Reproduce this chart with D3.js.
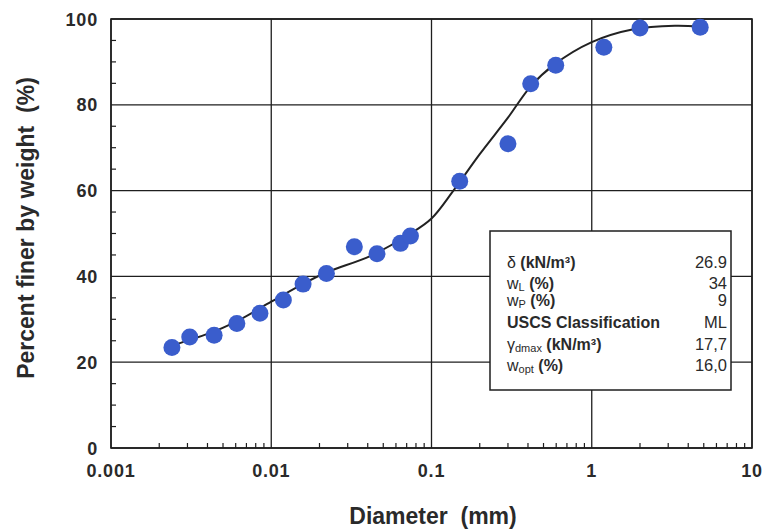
<!DOCTYPE html>
<html>
<head>
<meta charset="utf-8">
<script src="https://cdn.jsdelivr.net/npm/d3@7"></script>
<style>
  body { margin: 0; background: #fff; }
  text { font-family: "Liberation Sans", Arial, sans-serif; white-space: pre; }
</style>
</head>
<body>
<svg id="chart" width="764" height="532"></svg>
<script>
// measured points: diameter (mm) and percent finer
var diam = [0.0024, 0.0031, 0.0044, 0.0061, 0.0085, 0.0119, 0.0158, 0.0221, 0.033, 0.0457, 0.064, 0.0739,
            0.15, 0.30, 0.416, 0.596, 1.19, 2.0, 4.75];
var finer = [23.4, 25.9, 26.3, 29.0, 31.4, 34.5, 38.2, 40.7, 46.9, 45.3, 47.7, 49.4,
             62.2, 70.9, 84.9, 89.2, 93.4, 97.9, 98.1];

// fitted curve
var curveD = [0.00228, 0.0031, 0.0045, 0.0065, 0.01, 0.015, 0.022, 0.0417, 0.074, 0.1, 0.137, 0.2, 0.3, 0.416, 0.58, 1.0, 1.82, 3.3, 4.75];
var curveP = [23.6, 25.2, 27.3, 30.1, 34.1, 37.8, 40.9, 44.8, 50.0, 53.5, 60.0, 68.5, 77.0, 84.3, 89.3, 94.6, 97.6, 98.4, 98.2];

var xTicks = [0.001, 0.01, 0.1, 1, 10];
var xTickLabels = ["0.001", "0.01", "0.1", "1", "10"];
var yTicks = [0, 20, 40, 60, 80, 100];

var propLabels = ["δ (kN/m³)", "wL (%)", "wP (%)", "USCS Classification", "γdmax (kN/m³)", "wopt (%)"];
var propValues = ["26.9", "34", "9", "ML", "17,7", "16,0"];

var svg = d3.select("#chart");
var pLeft = 111, pRight = 752, pTop = 19, pBottom = 448;

var x = d3.scaleLog().domain([0.001, 10]).range([pLeft, pRight]);
var y = d3.scaleLinear().domain([0, 100]).range([pBottom, pTop]);

var ink = "#1e1e1e";

// grid
svg.append("g").selectAll("line").data(yTicks).enter().append("line")
    .attr("x1", pLeft).attr("x2", pRight)
    .attr("y1", function(d) { return y(d); }).attr("y2", function(d) { return y(d); })
    .attr("stroke", ink).attr("stroke-width", 1.3);
svg.append("g").selectAll("line").data(xTicks).enter().append("line")
    .attr("y1", pTop).attr("y2", pBottom)
    .attr("x1", function(d) { return x(d); }).attr("x2", function(d) { return x(d); })
    .attr("stroke", ink).attr("stroke-width", 1.3);

// minor ticks
var minorX = [];
xTicks.slice(0, -1).forEach(function(t) {
    for (var k = 2; k <= 9; k++) minorX.push(t * k);
});
svg.append("g").selectAll("line").data(minorX).enter().append("line")
    .attr("x1", function(d) { return x(d); }).attr("x2", function(d) { return x(d); })
    .attr("y1", pBottom).attr("y2", pBottom - 5)
    .attr("stroke", ink).attr("stroke-width", 1.2);

var minorY = d3.range(5, 100, 5).filter(function(d) { return d % 20 != 0; });
svg.append("g").selectAll("line").data(minorY).enter().append("line")
    .attr("x1", pLeft).attr("x2", pLeft + 5)
    .attr("y1", function(d) { return y(d); }).attr("y2", function(d) { return y(d); })
    .attr("stroke", ink).attr("stroke-width", 1.2);

svg.append("rect")
    .attr("x", pLeft).attr("y", pTop)
    .attr("width", pRight - pLeft).attr("height", pBottom - pTop)
    .attr("fill", "none").attr("stroke", ink).attr("stroke-width", 1.6);

// tick labels
svg.append("g").selectAll("text").data(xTicks).enter().append("text")
    .attr("x", function(d) { return x(d); })
    .attr("y", 477)
    .attr("text-anchor", "middle")
    .attr("font-size", 18).attr("font-weight", "bold").attr("fill", "#2a2a2a")
    .attr("letter-spacing", 0.8)
    .text(function(d, i) { return xTickLabels[i]; });

svg.append("g").selectAll("text").data(yTicks).enter().append("text")
    .attr("x", 98)
    .attr("y", function(d) { return y(d) + 6.5; })
    .attr("text-anchor", "end")
    .attr("font-size", 18).attr("font-weight", "bold").attr("fill", "#2a2a2a")
    .attr("letter-spacing", 0.8)
    .text(function(d) { return d; });

// axis titles
svg.append("text")
    .attr("x", 433).attr("y", 524)
    .attr("text-anchor", "middle")
    .attr("font-size", 23).attr("font-weight", "bold").attr("fill", "#2a2a2a")
    .text("Diameter  (mm)");

svg.append("text")
    .attr("transform", "translate(34,228) rotate(-90)")
    .attr("text-anchor", "middle")
    .attr("font-size", 23).attr("font-weight", "bold").attr("fill", "#2a2a2a")
    .text("Percent finer by weight  (%)");

// fitted curve
var line = d3.line()
    .x(function(d, i) { return x(d); })
    .y(function(d, i) { return y(curveP[i]); })
    .curve(d3.curveCatmullRom.alpha(0.5));

svg.append("path")
    .attr("d", line(curveD))
    .attr("fill", "none").attr("stroke", "#222").attr("stroke-width", 2);

// points
svg.append("g").selectAll("circle").data(diam).enter().append("circle")
    .attr("cx", function(d) { return x(d); })
    .attr("cy", function(d, i) { return y(finer[i]); })
    .attr("r", 8.5)
    .attr("fill", "#3a5dcc");

// properties box
var bx = 490, by = 231, bw = 241, bh = 159;
svg.append("rect")
    .attr("x", bx).attr("y", by).attr("width", bw).attr("height", bh)
    .attr("fill", "#fff").attr("stroke", ink).attr("stroke-width", 1.5);

var rowY = [268, 289, 306, 328, 350, 371];
var rows = svg.append("g").selectAll("g").data(propLabels).enter().append("g");

rows.append("text")
    .attr("x", 507)
    .attr("y", function(d, i) { return rowY[i]; })
    .attr("font-size", 16).attr("font-weight", "bold").attr("fill", "#2a2a2a")
    .each(function(d, i) {
        var t = d3.select(this);
        if (i == 1 || i == 2 || i == 4 || i == 5) {
            var sym = d.split(" ")[0];
            var base = sym.charAt(0);
            var sub = sym.slice(1);
            t.append("tspan").attr("font-weight", "normal").text(base);
            t.append("tspan").attr("font-size", 11).attr("font-weight", "normal").attr("dy", 2).text(sub);
            t.append("tspan").attr("dy", -2).text(d.slice(sym.length));
        } else if (i == 0) {
            t.append("tspan").attr("font-weight", "normal").text("δ");
            t.append("tspan").text(d.slice(1));
        } else {
            t.text(d);
        }
    });

rows.append("text")
    .attr("x", 727)
    .attr("y", function(d, i) { return rowY[i]; })
    .attr("text-anchor", "end")
    .attr("font-size", 16.5).attr("fill", "#2a2a2a")
    .text(function(d, i) { return propValues[i]; });
</script>
</body>
</html>
